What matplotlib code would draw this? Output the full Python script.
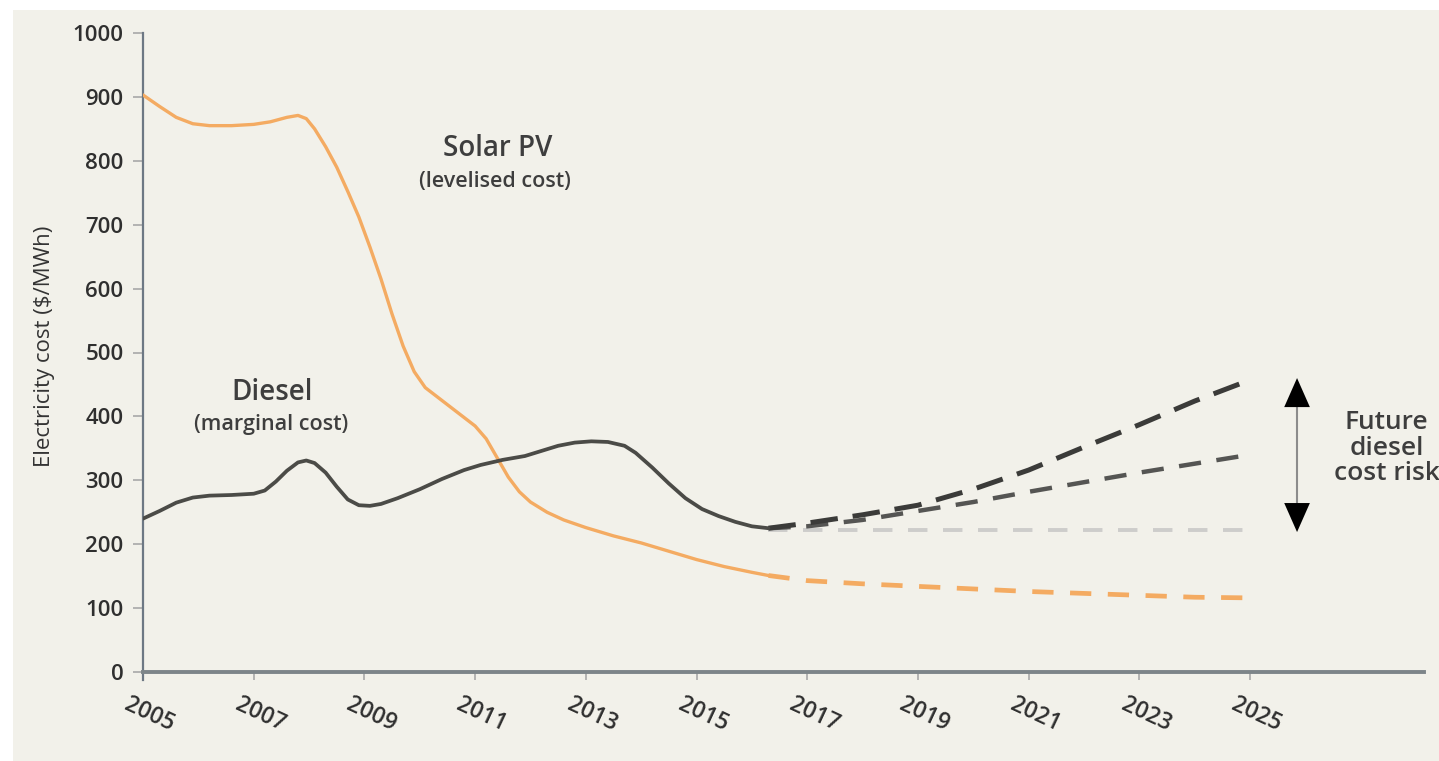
import matplotlib
matplotlib.use("Agg")
import matplotlib.pyplot as plt
import matplotlib.transforms as mtransforms
from matplotlib.patches import Rectangle

# Historical solar PV levelised cost ($/MWh)
solar_years = [2005.0, 2005.3, 2005.6, 2005.9, 2006.2, 2006.6, 2007.0, 2007.3,
               2007.6, 2007.8, 2007.95, 2008.1, 2008.3, 2008.5, 2008.7, 2008.9,
               2009.1, 2009.3, 2009.5, 2009.7, 2009.9, 2010.1, 2010.4, 2010.7,
               2011.0, 2011.2, 2011.4, 2011.6, 2011.8, 2012.0, 2012.3, 2012.6,
               2013.0, 2013.5, 2014.0, 2014.5, 2015.0, 2015.5, 2016.0, 2016.3]
solar_cost = [903, 885, 868, 858, 855, 855, 857, 861,
              868, 871, 866, 850, 822, 790, 752, 712,
              665, 615, 560, 510, 470, 445, 425, 405,
              385, 365, 335, 305, 282, 266, 250, 238,
              226, 213, 202, 189, 176, 165, 156, 151]

# Projected solar PV cost
solar_proj_years = [2016.3, 2017, 2018, 2019, 2020, 2021, 2022, 2023, 2024, 2025]
solar_proj_cost = [151, 143, 138, 134, 130, 126, 123, 120, 117, 116]

# Historical diesel marginal cost ($/MWh)
diesel_years = [2005.0, 2005.3, 2005.6, 2005.9, 2006.2, 2006.6, 2007.0, 2007.2,
                2007.4, 2007.6, 2007.8, 2007.95, 2008.1, 2008.3, 2008.5, 2008.7,
                2008.9, 2009.1, 2009.3, 2009.6, 2010.0, 2010.4, 2010.8, 2011.1,
                2011.5, 2011.9, 2012.2, 2012.5, 2012.8, 2013.1, 2013.4, 2013.7,
                2013.9, 2014.2, 2014.5, 2014.8, 2015.1, 2015.4, 2015.7, 2016.0,
                2016.3]
diesel_cost = [240, 252, 265, 273, 276, 277, 279, 284,
               298, 315, 328, 331, 327, 312, 290, 270,
               261, 260, 263, 272, 286, 302, 316, 324,
               332, 338, 346, 354, 359, 361, 360, 354,
               343, 320, 295, 272, 255, 244, 235, 228,
               225]

# Future diesel cost scenarios
proj_years = [2016.3, 2017, 2018, 2019, 2020, 2021, 2022, 2023, 2024, 2025]
diesel_high = [225, 233, 246, 261, 286, 316, 352, 387, 424, 457]
diesel_mid = [225, 228, 238, 252, 266, 282, 297, 312, 326, 340]
diesel_flat = [222, 222, 222, 222, 222, 222, 222, 222, 222, 222]

tick_years = list(range(2005, 2026, 2))
cost_ticks = list(range(0, 1001, 100))

FONT = ["Open Sans", "DejaVu Sans"]
plt.rcParams["font.family"] = FONT
plt.rcParams["font.weight"] = "semibold"

W, H = 1439, 761
fig = plt.figure(figsize=(W / 100, H / 100), dpi=100, facecolor="white")
fig.patches.append(Rectangle((13 / W, 0), 1, 751 / H, transform=fig.transFigure,
                             facecolor="#f2f1ea", edgecolor="none", zorder=-10))

x0, x1 = 143, 1424
yb, yt = 672, 33
ax = fig.add_axes([x0 / W, 1 - yb / H, (x1 - x0) / W, (yb - yt) / H])
ax.set_facecolor("none")
px_per_year = (1250 - 143) / 20
ax.set_xlim(2005, 2005 + (x1 - x0) / px_per_year)
ax.set_ylim(0, 1000)

orange = "#f4ab62"
dark = "#4b4b47"

ax.plot(solar_years, solar_cost, color=orange, lw=2.4, solid_capstyle="round",
        solid_joinstyle="round", zorder=3)
ax.plot(solar_proj_years, solar_proj_cost, color=orange, lw=3.4,
        dashes=(4.5, 3.5), zorder=3)

ax.plot(proj_years, diesel_flat, color="#cdcdcb", lw=2.8, dashes=(5, 4), zorder=2)
ax.plot(proj_years, diesel_mid, color="#555553", lw=3.2, dashes=(5, 3.5), zorder=3)
ax.plot(proj_years, diesel_high, color="#3b3b39", lw=3.6, dashes=(5.5, 3), zorder=3)
ax.plot(diesel_years, diesel_cost, color=dark, lw=2.7, solid_capstyle="round",
        solid_joinstyle="round", zorder=4)

# Spines
for side in ("top", "right"):
    ax.spines[side].set_visible(False)
ax.spines["left"].set_color("#6d7884")
ax.spines["left"].set_linewidth(1.6)
ax.spines["left"].set_bounds(-12, 1000)
ax.spines["bottom"].set_color("#7d8589")
ax.spines["bottom"].set_linewidth(2.8)

ax.set_yticks(cost_ticks)
ax.set_yticklabels([str(v) for v in cost_ticks])
ax.set_xticks(tick_years)
ax.set_xticklabels([str(y) for y in tick_years])
ax.tick_params(axis="y", length=7, width=1.2, color="#a8a8a8", pad=7,
               labelsize=16, labelcolor="#2f2f2f")
ax.tick_params(axis="x", length=6, width=1.2, color="#a8a8a8", pad=4,
               labelsize=16.5, labelcolor="#2f2f2f")
offset = mtransforms.ScaledTranslation(-0.12, -0.07, fig.dpi_scale_trans)
for lab in ax.get_xticklabels():
    lab.set_rotation(-25)
    lab.set_rotation_mode("anchor")
    lab.set_ha("left")
    lab.set_va("top")
    lab.set_transform(lab.get_transform() + offset)

ax.set_ylabel("Electricity cost ($/MWh)", fontsize=16, color="#333333")
ax.yaxis.set_label_coords(-0.069, 0.51)

txt = "#3e3e3e"
ax.text(2011.40, 820, "Solar PV", ha="center", va="center", fontsize=20, color=txt)
ax.text(2011.36, 767, "(levelised cost)", ha="center", va="center", fontsize=15.5, color=txt)
ax.text(2007.33, 438, "Diesel", ha="center", va="center", fontsize=20, color=txt)
ax.text(2007.31, 388, "(marginal cost)", ha="center", va="center", fontsize=15.5, color=txt)
ax.text(2027.47, 350, "Future\ndiesel\ncost risk", ha="center", va="center",
        fontsize=19, color=txt, linespacing=1.02, clip_on=False)

# Range arrow for future diesel cost risk
xa = 2025.85
ax.plot([xa, xa], [235, 445], color="#8c8c8c", lw=1.5, zorder=2)
head = dict(arrowstyle="-|>,head_length=0.95,head_width=0.42", color="black",
            lw=0, mutation_scale=22, shrinkA=0, shrinkB=0)
ax.annotate("", xy=(xa, 460), xytext=(xa, 400), arrowprops=head)
ax.annotate("", xy=(xa, 219), xytext=(xa, 280), arrowprops=head)

fig.savefig("out.png", dpi=100, facecolor=fig.get_facecolor())
